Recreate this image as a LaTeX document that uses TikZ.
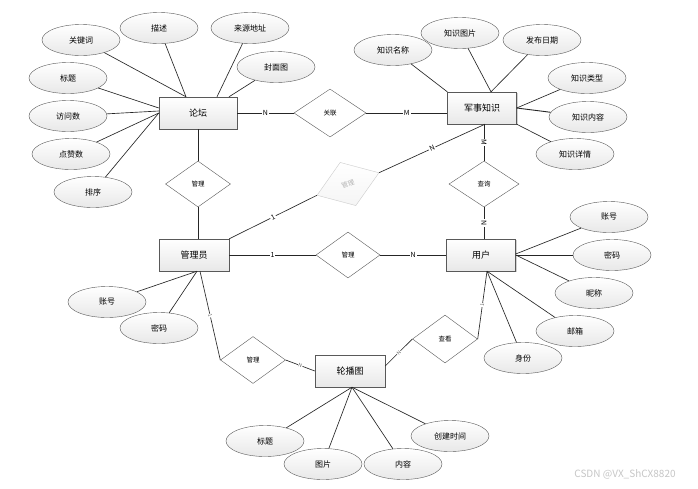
\documentclass[tikz,border=0pt]{standalone}
\usepackage{fontspec}
\setmainfont{Noto Sans CJK SC}
\usetikzlibrary{shapes.geometric,shadows}
\tikzset{
  entity/.style={draw=gray!70!black, top color=white, bottom color=gray!18, minimum width=70pt, minimum height=32pt, inner sep=0pt, font=\fontsize{9}{10}\selectfont, drop shadow={opacity=0.35, shadow xshift=1.2pt, shadow yshift=-1.2pt}},
  attr/.style={ellipse, draw=gray!70!black, top color=white, bottom color=gray!18, minimum width=78pt, minimum height=31pt, inner sep=0pt, font=\fontsize{8}{9}\selectfont},
  rel/.style={diamond, draw=gray!70!black, fill=white, minimum width=65pt, minimum height=46pt, inner sep=0pt, font=\fontsize{6.5}{7}\selectfont},
  card/.style={fill=white, inner sep=1pt, font=\fontsize{7}{8}\selectfont},
  cards/.style={card, sloped, inner sep=0.5pt, font=\fontsize{5}{6}\selectfont, text=gray!80!black},
  link/.style={draw=black!85, line width=0.65pt}
}

\begin{document}
\begin{tikzpicture}[x=1pt, y=-1pt]
\useasboundingbox[fill=white] (0,0) rectangle (698,488);
% entities
\node[entity, minimum width=78pt] (lt)  at (198,113) {论坛};
\node[entity, minimum width=69pt] (js)  at (482,108) {军事知识};
\node[entity] (gly) at (194,255) {管理员};
\node[entity, minimum width=69pt] (yh)  at (481,255) {用户};
\node[entity] (lbt) at (350,371) {轮播图};
% relations
\node[rel, minimum width=72pt, minimum height=48pt] (gl)  at (330,113) {关联};
\node[rel] (gl1) at (198,184) {管理};
\node[rel, draw=gray!40, text=gray!60, top color=white, bottom color=gray!8, minimum width=66pt, rotate=20] (gl2) at (348,184) {管理};
\node[rel, minimum width=70pt] (cx)  at (484,184) {查询};
\node[rel, minimum width=64pt] (gl3) at (348,255) {管理};
\node[rel, minimum height=47pt] (gl4) at (253,360) {管理};
\node[rel, minimum height=48pt] (ck)  at (445,339) {查看};
% attributes of 论坛
\node[attr] (kw)  at (81,40)   {关键词};
\node[attr] (ms)  at (159,28)  {描述};
\node[attr] (ly)  at (250,28)  {来源地址};
\node[attr] (fmt) at (276,67)  {封面图};
\node[attr] (bt)  at (68,78)   {标题};
\node[attr] (fws) at (68,116)  {访问数};
\node[attr] (dzs) at (71,154)  {点赞数};
\node[attr] (px)  at (93,192)  {排序};
% attributes of 军事知识
\node[attr] (zsmc) at (393,50)  {知识名称};
\node[attr] (zstp) at (460,33)  {知识图片};
\node[attr] (fbrq) at (542,40)  {发布日期};
\node[attr] (zslx) at (587,78)  {知识类型};
\node[attr] (zsnr) at (588,117) {知识内容};
\node[attr] (zsxq) at (575,154) {知识详情};
% attributes of 管理员
\node[attr] (zh1) at (107,302) {账号};
\node[attr] (mm1) at (159,328) {密码};
% attributes of 用户
\node[attr] (zh2) at (609,217) {账号};
\node[attr] (mm2) at (612,255) {密码};
\node[attr] (nc)  at (594,293) {昵称};
\node[attr] (yx)  at (575,331) {邮箱};
\node[attr] (sf)  at (523,358) {身份};
% attributes of 轮播图
\node[attr] (bt2) at (265,441) {标题};
\node[attr] (tp)  at (323,464) {图片};
\node[attr] (nr)  at (403,464) {内容};
\node[attr] (cjsj) at (450,436) {创建时间};

\draw[link] (kw) -- ([xshift=-12]lt.north);
\draw[link] (ms) -- ([xshift=-12]lt.north);
\draw[link] (ly) -- ([xshift=19]lt.north);
\draw[link] (fmt) -- ([xshift=31]lt.north);
\draw[link] (bt) -- ([yshift=5]lt.west);
\draw[link] (fws) -- ([yshift=2]lt.west);
\draw[link] (dzs) -- (lt.west);
\draw[link] (px) -- (lt.west);

\draw[link] (zsmc) -- (js.north west);
\draw[link] (zstp) -- ([xshift=9]js.north);
\draw[link] (fbrq) -- ([xshift=9]js.north);
\draw[link] (zslx) -- (js.east);
\draw[link, line width=0.9pt] (zsnr) -- (js.east);
\draw[link] (zsxq) -- (js.south east);

\draw[link] (zh1) -- ([xshift=3]gly.south);
\draw[link] (mm1) -- ([xshift=3]gly.south);

\draw[link] (zh2) -- ([yshift=1]yh.east);
\draw[link] (mm2) -- (yh.east);
\draw[link] (nc) -- (yh.east);
\draw[link] (yx) -- ([xshift=6]yh.south);
\draw[link] (sf) -- ([xshift=6]yh.south);

\draw[link] (bt2) -- ([xshift=2]lbt.south);
\draw[link] (tp) -- ([xshift=2]lbt.south);
\draw[link] (nr) -- ([xshift=2]lbt.south);
\draw[link] (cjsj) -- ([xshift=2]lbt.south);

% relation lines
\draw[link] (lt.east) -- node[card]{N} (gl.west);
\draw[link] (gl.east) -- node[card]{M} (gl.east -| js.west);
\draw[link] (lt.south -| gl1.north) -- (gl1.north);
\draw[link] (gl1.south) -- (gl1.south |- gly.north);
\draw[link] (gly.north east) -- node[card, sloped]{1} (gl2.west);
\draw[link] (gl2.east) -- node[card, sloped]{N} ([xshift=3]js.south);
\draw[link] (cx.north |- js.south) -- node[card, rotate=-90]{M} (cx.north);
\draw[link] (cx.south) -- node[card, rotate=-90]{N} (cx.south |- yh.north);
\draw[link] (gly.east) -- node[card]{1} (gl3.west);
\draw[link] (gl3.east) -- node[card]{N} (yh.west);
\draw[link] ([xshift=6]gly.south) -- node[cards]{1} (gl4.west);
\draw[link] (gl4.east) -- node[cards]{N} (lbt.west);
\draw[link] ([yshift=5]lbt.east) -- node[cards]{N} (ck.west);
\draw[link] (ck.east) -- node[cards]{1} ([xshift=6]yh.south);

\node[text=gray!45, font=\fontsize{10}{12}\selectfont] (wm) at (625,474) {CSDN @VX\_ShCX8820};
\end{tikzpicture}
\end{document}
